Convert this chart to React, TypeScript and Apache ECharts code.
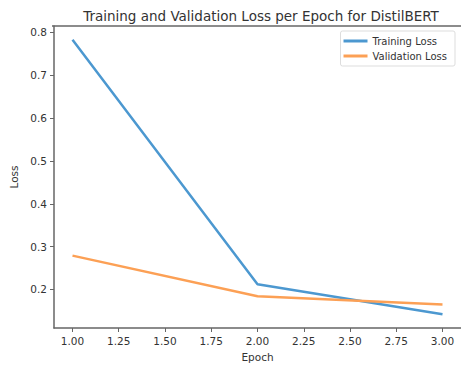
import React, { useEffect, useRef } from "react";
import * as echarts from "echarts";

const epochs = [1, 2, 3];
const trainingLoss = [0.783, 0.212, 0.142];
const validationLoss = [0.279, 0.184, 0.165];
const xTicks = [1.0, 1.25, 1.5, 1.75, 2.0, 2.25, 2.5, 2.75, 3.0];
const yTicks = [0.2, 0.3, 0.4, 0.5, 0.6, 0.7, 0.8];

export default function App() {
  const ref = useRef<HTMLDivElement>(null);
  useEffect(() => {
    if (!ref.current) return;
    const chart = echarts.init(ref.current, null, { renderer: "svg" });
    const font = "DejaVu Sans";
    chart.setOption({
      animation: false,
      backgroundColor: "#ffffff",
      title: {
        text: "Training and Validation Loss per Epoch for DistilBERT",
        left: 256,
        top: 4,
        textAlign: "center",
        textStyle: { fontFamily: font, fontSize: 13.5, fontWeight: "normal", color: "#333" },
      },
      legend: {
        right: 6,
        top: 31,
        orient: "vertical",
        itemWidth: 24,
        itemHeight: 3,
        itemGap: 5,
        padding: [5, 8, 5, 3],
        borderColor: "#ddd",
        borderWidth: 1,
        borderRadius: 2,
        icon: "rect",
        textStyle: { fontFamily: font, fontSize: 10, color: "#333" },
        data: ["Training Loss", "Validation Loss"],
      },
      grid: { left: 52, right: -1, top: 26, bottom: 37, show: false },
      xAxis: {
        type: "value",
        min: 0.9,
        max: 3.1,
        name: "Epoch",
        nameLocation: "middle",
        nameGap: 23,
        nameTextStyle: { fontFamily: font, fontSize: 10.5, color: "#333" },
        axisLine: { show: true, lineStyle: { color: "#666", width: 1.5 } },
        axisTick: { show: true, customValues: xTicks, length: 4, lineStyle: { color: "#666" } },
        axisLabel: {
          customValues: xTicks,
          formatter: (v: number) => v.toFixed(2),
          fontFamily: font,
          fontSize: 10.5,
          color: "#333",
          margin: 7,
        },
        splitLine: { show: false },
      },
      yAxis: {
        type: "value",
        min: 0.11,
        max: 0.815,
        name: "Loss",
        nameLocation: "middle",
        nameGap: 35,
        nameTextStyle: { fontFamily: font, fontSize: 10.5, color: "#333" },
        axisLine: { show: true, lineStyle: { color: "#666", width: 1.5 } },
        axisTick: { show: true, customValues: yTicks, length: 4, lineStyle: { color: "#666" } },
        axisLabel: {
          customValues: yTicks,
          formatter: (v: number) => v.toFixed(1),
          fontFamily: font,
          fontSize: 10.5,
          color: "#333",
          margin: 7,
        },
        splitLine: { show: false },
      },
      graphic: [
        {
          type: "line",
          shape: { x1: 52, y1: 26, x2: 461, y2: 26 },
          style: { stroke: "#666", lineWidth: 1.5 },
        },
      ],
      series: [
        {
          name: "Training Loss",
          type: "line",
          data: epochs.map((e, i) => [e, trainingLoss[i]]),
          showSymbol: false,
          lineStyle: { color: "#4c98d0", width: 2.5 },
          itemStyle: { color: "#4c98d0" },
        },
        {
          name: "Validation Loss",
          type: "line",
          data: epochs.map((e, i) => [e, validationLoss[i]]),
          showSymbol: false,
          lineStyle: { color: "#fca055", width: 2.5 },
          itemStyle: { color: "#fca055" },
        },
      ],
    });
    return () => chart.dispose();
  }, []);
  return <div ref={ref} style={{ width: 461, height: 367, position: "absolute", left: 0, top: 0 }} />;
}
